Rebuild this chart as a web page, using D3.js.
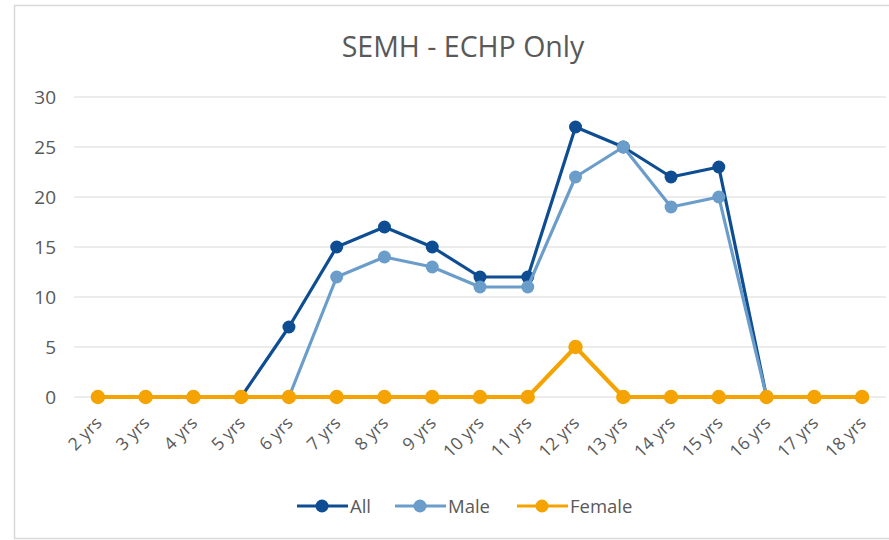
<!DOCTYPE html>
<html>
<head>
<meta charset="utf-8">
<script src="https://cdn.jsdelivr.net/npm/d3@7"></script>
<style>
  body { margin: 0; background: #fff; }
  svg { display: block; font-family: "Open Sans", "Liberation Sans", sans-serif; }
</style>
</head>
<body>
<svg id="chart" width="889" height="540"></svg>
<script>
// categories and series
const ages = ["2 yrs", "3 yrs", "4 yrs", "5 yrs", "6 yrs", "7 yrs", "8 yrs", "9 yrs", "10 yrs",
              "11 yrs", "12 yrs", "13 yrs", "14 yrs", "15 yrs", "16 yrs", "17 yrs", "18 yrs"];
const allValues    = [0, 0, 0, 0, 7, 15, 17, 15, 12, 12, 27, 25, 22, 23, 0, 0, 0];
const maleValues   = [0, 0, 0, 0, 0, 12, 14, 13, 11, 11, 22, 25, 19, 20, 0, 0, 0];
const femaleValues = [0, 0, 0, 0, 0, 0, 0, 0, 0, 0, 5, 0, 0, 0, 0, 0, 0];
const yTicks = [0, 5, 10, 15, 20, 25, 30];

// female sits on top; slightly fatter so the lines under it don't bleed at the edges
const series = [
  { name: "All", values: allValues, color: "#0e4d92", r: 6.5, w: 3.2 },
  { name: "Male", values: maleValues, color: "#6b9dcb", r: 6.5, w: 3.2 },
  { name: "Female", values: femaleValues, color: "#f4a300", r: 7.2, w: 4 }
];

const svg = d3.select("#chart");
const W = 889, H = 540;
const margin = { top: 97, right: 3, bottom: 143, left: 74 };
const textColor = "#595959";

// chart frame
svg.append("rect")
  .attr("x", 14.5).attr("y", 5.5)
  .attr("width", W).attr("height", H - 7)
  .attr("fill", "#fff")
  .attr("stroke", "#d9d9d9")
  .attr("stroke-width", 1.5);

svg.append("text")
  .attr("x", 463).attr("y", 57)
  .attr("text-anchor", "middle")
  .attr("font-size", 28.5)
  .attr("fill", textColor)
  .text("SEMH - ECHP Only");

const x = d3.scaleBand()
  .domain(ages)
  .range([margin.left, W - margin.right]);

const y = d3.scaleLinear()
  .domain([0, 30])
  .range([H - margin.bottom, margin.top]);

// gridlines
svg.append("g")
  .selectAll("line")
  .data(yTicks)
  .enter().append("line")
  .attr("x1", margin.left)
  .attr("x2", W - margin.right)
  .attr("y1", d => y(d))
  .attr("y2", d => y(d))
  .attr("stroke", "#e6e6e6")
  .attr("stroke-width", 1.5);

// y axis labels
const yAxis = svg.append("g")
  .attr("transform", `translate(${margin.left - 18},0)`)
  .call(d3.axisLeft(y).tickValues(yTicks).tickSize(0).tickPadding(0));
yAxis.select(".domain").remove();
yAxis.selectAll("text")
  .attr("font-size", 19)
  .attr("fill", textColor)
  .attr("font-family", "'Open Sans', 'Liberation Sans', sans-serif");

// x axis labels, rotated
const xAxis = svg.append("g")
  .attr("transform", `translate(0,${y(0)})`)
  .call(d3.axisBottom(x).tickSize(0).tickPadding(0));
xAxis.select(".domain").remove();
xAxis.selectAll("text")
  .attr("font-size", 17.5)
  .attr("fill", textColor)
  .attr("font-family", "'Open Sans', 'Liberation Sans', sans-serif")
  .attr("text-anchor", "end")
  .attr("dy", null)
  .attr("y", 0)
  .attr("transform", "translate(5,27) rotate(-45)");

const cx = d => x(d) + x.bandwidth() / 2;

const line = d3.line()
  .x((d, i) => cx(ages[i]))
  .y(d => y(d));

series.forEach(s => {
  const g = svg.append("g");
  g.append("path")
    .datum(s.values)
    .attr("d", line)
    .attr("fill", "none")
    .attr("stroke", s.color)
    .attr("stroke-width", s.w)
    .attr("stroke-linejoin", "round");
  g.selectAll("circle")
    .data(s.values)
    .enter().append("circle")
    .attr("cx", (d, i) => cx(ages[i]))
    .attr("cy", d => y(d))
    .attr("r", s.r)
    .attr("fill", s.color);
});

// legend
const legendX = [297, 395, 517];
const legend = svg.append("g");
series.forEach((s, i) => {
  const lg = legend.append("g").attr("transform", `translate(${legendX[i]},506)`);
  lg.append("line")
    .attr("x1", 0).attr("x2", 51)
    .attr("stroke", s.color).attr("stroke-width", 3.2);
  lg.append("circle")
    .attr("cx", 25).attr("r", 6.5)
    .attr("fill", s.color);
  lg.append("text")
    .attr("x", 53).attr("y", 6.5)
    .attr("font-size", 18.5)
    .attr("fill", textColor)
    .text(s.name);
});
</script>
</body>
</html>
